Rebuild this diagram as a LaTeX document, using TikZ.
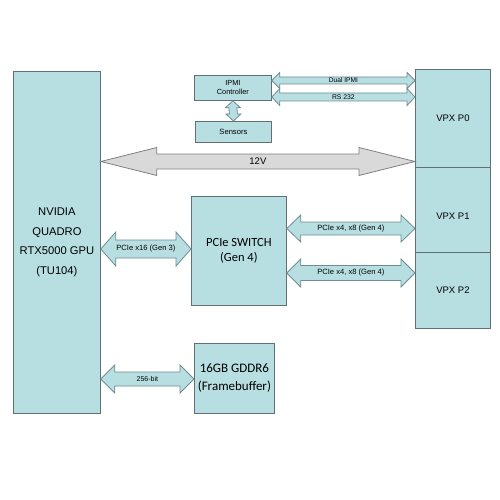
\documentclass[tikz,border=0pt]{standalone}
\usepackage{fontspec}
\setmainfont{Liberation Sans}
\newfontfamily\calfont{Carlito}
\usetikzlibrary{calc}

\definecolor{boxfill}{RGB}{183,222,225}
\definecolor{boxline}{RGB}{96,112,116}
\definecolor{arrline}{RGB}{110,140,146}
\definecolor{pwrfill}{RGB}{217,217,217}
\definecolor{pwrline}{RGB}{128,128,128}

% 水平粗双箭头: 样式, 左尖, 右尖, 箭头长, 半杆宽, 半箭头宽, 标签
\newcommand{\hfat}[7]{%
  \draw[#1] (#2) -- ++(#4,-#6) -- ++(0,{#6-#5}) -- ($(#3)+(-#4,-#5)$) -- ++(0,{#5-#6})
    -- (#3) -- ++(-#4,#6) -- ++(0,{#5-#6}) -- ($(#2)+(#4,#5)$) -- ++(0,{#6-#5}) -- cycle;
  \path (#2) -- (#3) node[midway] (lbl-#2) {#7};
}
% 竖直粗双箭头: 样式, 上尖, 下尖, 箭头长, 半杆宽, 半箭头宽
\newcommand{\vfat}[6]{%
  \draw[#1] (#2) -- ++(-#6,#4) -- ++({#6-#5},0) -- ($(#3)+(-#5,-#4)$) -- ++({#5-#6},0)
    -- (#3) -- ++(#6,-#4) -- ++({#5-#6},0) -- ($(#2)+(#5,#4)$) -- ++({#6-#5},0) -- cycle;
}

\begin{document}
\begin{tikzpicture}[x=1pt, y=-1pt,
  box/.style={draw=boxline, fill=boxfill, line width=0.8pt, inner sep=0pt,
    anchor=north west, align=center},
  vpx/.style={box, minimum width=75pt, font=\fontsize{9.5}{10}\selectfont},
  fat/.style={draw=arrline, fill=boxfill, line width=0.8pt, line join=miter},
  pwr/.style={draw=pwrline, fill=pwrfill, line width=0.8pt, line join=miter}]

  \useasboundingbox (0,0) rectangle (500,500);

  % ---- 左侧: GPU ----
  \node[box, minimum width=87pt, minimum height=342pt,
    font=\fontsize{11.2}{19.5}\selectfont] (gpu) at (13,71)
    {NVIDIA\\QUADRO\\RTX5000 GPU\\(TU104)};

  % ---- 中间: IPMI / Sensors / PCIe Switch / GDDR6 ----
  \node[box, minimum width=77pt, minimum height=25pt,
    font=\fontsize{7.4}{9}\selectfont] (ipmi) at (194,75) {IPMI\\Controller};
  \node[box, minimum width=76pt, minimum height=21pt,
    font=\fontsize{7.6}{9}\selectfont] (sensors) at (195,121) {Sensors};
  \node[box, minimum width=95pt, minimum height=109pt,
    font=\calfont\fontsize{12.5}{15}\selectfont] (pswitch) at (191,196) {PCIe SWITCH\\(Gen 4)};
  \node[box, minimum width=80pt, minimum height=70pt,
    font=\calfont\fontsize{13}{18}\selectfont] (gddr) at (194,343) {16GB GDDR6\\(Framebuffer)};

  % ---- 右侧: VPX 连接器 ----
  \node[vpx, minimum height=98pt] (p0) at (415,69) {VPX P0};
  \node[vpx, minimum height=85pt, text height=20pt, text depth=0pt] (p1) at (415,167) {VPX P1};
  \node[vpx, minimum height=76pt] (p2) at (415,252) {VPX P2};

  % 箭头端点
  \coordinate (ipA) at (ipmi.east |- 0,80.5);
  \coordinate (ipB) at (p0.west |- 0,80.5);
  \coordinate (rsA) at (ipmi.east |- 0,97);
  \coordinate (rsB) at (p0.west |- 0,97);
  \coordinate (pwA) at (gpu.east |- 0,161.5);
  \coordinate (pwB) at (p0.west |- 0,161.5);
  \coordinate (gxA) at (gpu.east |- 0,249);
  \coordinate (gxB) at (pswitch.west |- 0,249);
  \coordinate (s1A) at (pswitch.east |- 0,228.5);
  \coordinate (s1B) at (p1.west |- 0,228.5);
  \coordinate (s2A) at (pswitch.east |- 0,273);
  \coordinate (s2B) at (p2.west |- 0,273);
  \coordinate (mmA) at (gpu.east |- 0,379);
  \coordinate (mmB) at (gddr.west |- 0,379);

  % ---- 连接箭头 ----
  \hfat{fat}{ipA}{ipB}{8}{3.5}{8}{\fontsize{6.6}{7}\selectfont Dual IPMI}
  \hfat{fat}{rsA}{rsB}{8}{4}{8.5}{\fontsize{6.8}{7}\selectfont RS 232}
  \vfat{fat}{ipmi.south}{sensors.north}{7}{4}{7.5}
  \hfat{pwr}{pwA}{pwB}{56}{7.5}{14}{\fontsize{9.5}{10}\selectfont 12V}
  \hfat{fat}{gxA}{gxB}{15}{9}{17}{\fontsize{7.6}{8}\selectfont PCIe x16 (Gen 3)}
  \hfat{fat}{s1A}{s1B}{14}{6.5}{13.5}{\fontsize{7.6}{8}\selectfont PCIe x4, x8 (Gen 4)}
  \hfat{fat}{s2A}{s2B}{14}{7.5}{14}{\fontsize{7.6}{8}\selectfont PCIe x4, x8 (Gen 4)}
  \hfat{fat}{mmA}{mmB}{14}{7}{14}{\fontsize{7}{8}\selectfont 256-bit}

\end{tikzpicture}
\end{document}
